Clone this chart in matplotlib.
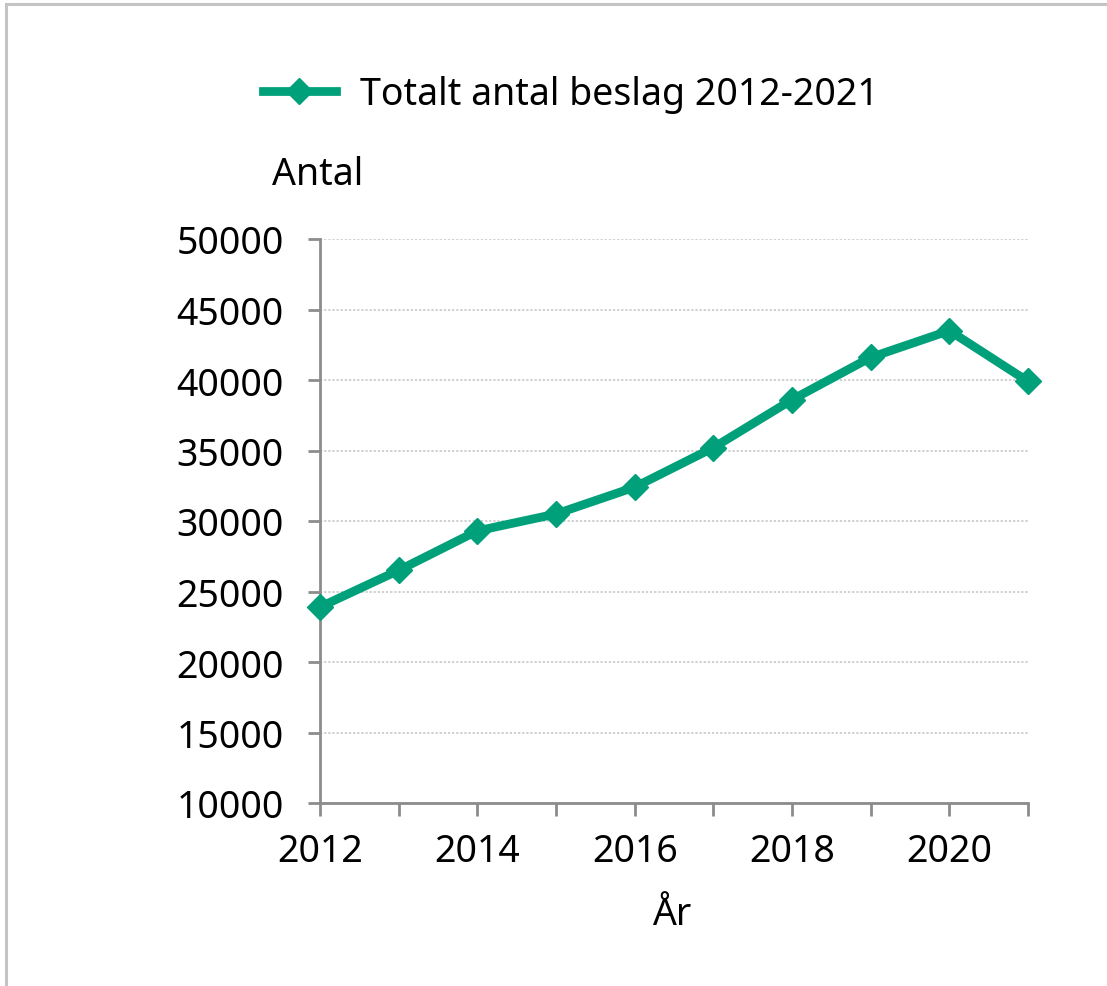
import numpy as np
import matplotlib
matplotlib.use("Agg")
import matplotlib.pyplot as plt
from matplotlib.patches import Rectangle

# beslag per år
years = [2012, 2013, 2014, 2015, 2016, 2017, 2018, 2019, 2020, 2021]
seizures = [23900, 26500, 29300, 30500, 32400, 35200, 38600, 41600, 43500, 39900]
series_label = "Totalt antal beslag 2012-2021"
yticks = [10000, 15000, 20000, 25000, 30000, 35000, 40000, 45000, 50000]
xticklabels = [2012, 2014, 2016, 2018, 2020]

green = "#00A07A"
axis_grey = "#8C8C8C"
fs = 27

plt.rcParams['font.family'] = ['Noto Sans', 'DejaVu Sans']

W, H = 1107, 987
fig = plt.figure(figsize=(W / 100, H / 100), dpi=100)

# thin grey frame (only top and left edges show)
fig.add_artist(Rectangle((6 / W, -0.1), 1.2, 1 - 5 / H + 0.1,
                         transform=fig.transFigure, fill=False,
                         edgecolor="#C4C4C4", linewidth=2.2))

ax = fig.add_axes([320 / W, 1 - 804 / H, 708 / W, 564 / H])
line, = ax.plot(years, seizures, color=green, linewidth=6.3,
                marker='D', markersize=13, markeredgewidth=1,
                markeredgecolor=green, label=series_label, clip_on=False,
                zorder=3)

ax.set_xlim(2012, 2021)
ax.set_ylim(10000, 50000)
ax.set_yticks(yticks)
ax.set_xticks(years)
ax.set_xticklabels([str(y) if y in xticklabels else "" for y in years])

ax.grid(axis='y', color="#C4C4C4", linestyle=(0, (1.5, 1.2)), linewidth=1.1)
ax.set_axisbelow(True)

for side in ['top', 'right']:
    ax.spines[side].set_visible(False)
for side in ['left', 'bottom']:
    ax.spines[side].set_color(axis_grey)
    ax.spines[side].set_linewidth(2)

ax.tick_params(axis='both', direction='out', length=9, width=2,
               color=axis_grey, labelsize=fs, labelcolor='black')
ax.tick_params(axis='y', pad=17)
ax.tick_params(axis='x', pad=12)

fig.text(272 / W, 1 - 175 / H, "Antal", fontsize=fs, ha='left', va='center')
fig.text(672 / W, 1 - 915 / H, "År", fontsize=fs, ha='center', va='center')

fig.legend(handles=[line], loc='center', bbox_to_anchor=(571 / W, 1 - 95 / H),
           frameon=False, fontsize=fs, handlelength=1.95, handletextpad=0.65,
           borderaxespad=0)

fig.savefig("out.png", dpi=100, facecolor='white')
